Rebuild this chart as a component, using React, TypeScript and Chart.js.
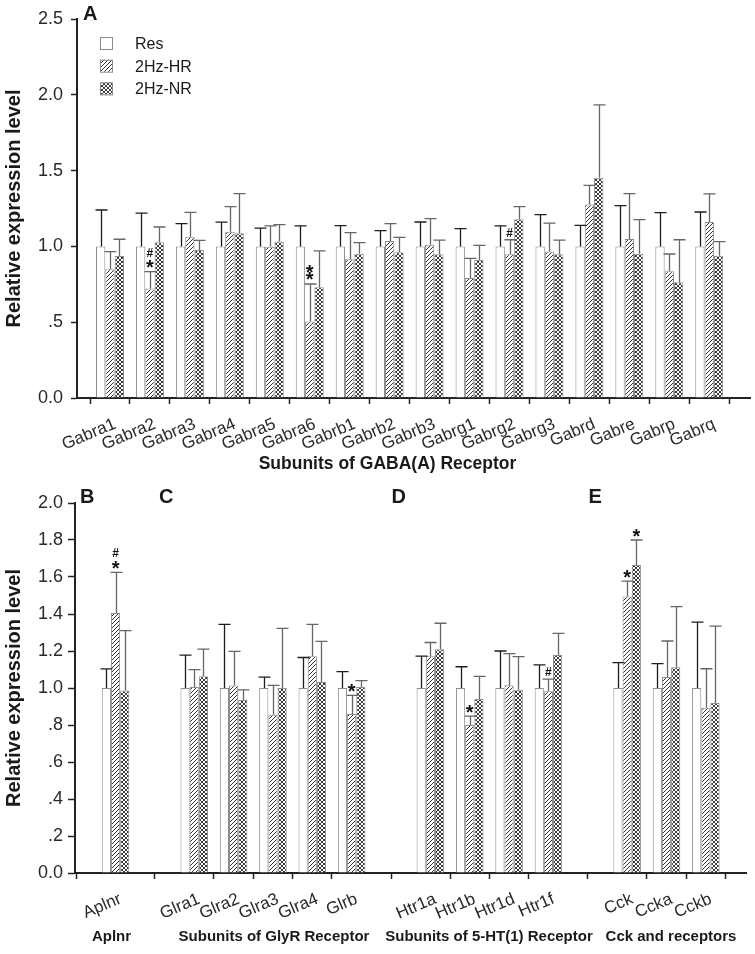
import React, { useEffect, useRef } from 'react';
import { Chart, registerables } from 'chart.js';

Chart.register(...registerables);

const FONT = '"Liberation Sans", Arial, Helvetica, sans-serif';
Chart.defaults.font.family = FONT;

const SERIES = ['Res', '2Hz-HR', '2Hz-NR'];

// ---------- Panel A : GABA(A) receptor subunits ----------
const gabaCategories = ['Gabra1', 'Gabra2', 'Gabra3', 'Gabra4', 'Gabra5', 'Gabra6', 'Gabrb1', 'Gabrb2', 'Gabrb3', 'Gabrg1', 'Gabrg2', 'Gabrg3', 'Gabrd', 'Gabre', 'Gabrp', 'Gabrq'];
const gabaRes = [1, 1, 1, 1, 1, 1, 1, 1, 1, 1, 1, 1, 1, 1, 1, 1];
const gabaResErr = [0.24, 0.22, 0.15, 0.16, 0.12, 0.135, 0.137, 0.104, 0.161, 0.117, 0.135, 0.209, 0.139, 0.269, 0.223, 0.227];
const gabaHR = [0.849, 0.723, 1.064, 1.097, 0.998, 0.504, 0.915, 1.036, 1.011, 0.792, 0.948, 0.967, 1.277, 1.049, 0.836, 1.161];
const gabaHRErr = [0.116, 0.11, 0.161, 0.165, 0.137, 0.248, 0.176, 0.114, 0.172, 0.129, 0.096, 0.187, 0.126, 0.299, 0.114, 0.185];
const gabaNR = [0.937, 1.027, 0.976, 1.086, 1.033, 0.73, 0.952, 0.961, 0.948, 0.91, 1.179, 0.948, 1.453, 0.952, 0.763, 0.939];
const gabaNRErr = [0.11, 0.101, 0.064, 0.262, 0.11, 0.24, 0.073, 0.099, 0.094, 0.097, 0.083, 0.094, 0.48, 0.224, 0.281, 0.092];
const gabaYTicks = [0, 0.5, 1.0, 1.5, 2.0, 2.5];
const gabaMarks = [
  { cat: 1, series: 1, marks: ['*', '#'] },
  { cat: 5, series: 1, marks: ['*', '*'] },
  { cat: 10, series: 1, marks: ['#'] },
];

// ---------- Panels B–E (null = gap between groups) ----------
const otherCategories = ['Aplnr', null, 'Glra1', 'Glra2', 'Glra3', 'Glra4', 'Glrb', null, 'Htr1a', 'Htr1b', 'Htr1d', 'Htr1f', null, 'Cck', 'Ccka', 'Cckb'];
const otherRes = [1, null, 1, 1, 1, 1, 1, null, 1, 1, 1, 1, null, 1, 1, 1];
const otherResErr = [0.103, null, 0.178, 0.344, 0.059, 0.165, 0.088, null, 0.172, 0.115, 0.2, 0.125, null, 0.137, 0.132, 0.356];
const otherHR = [1.405, null, 1.005, 1.013, 0.855, 1.172, 0.86, null, 1.172, 0.8, 1.015, 0.983, null, 1.495, 1.059, 0.893];
const otherHRErr = [0.22, null, 0.094, 0.185, 0.159, 0.172, 0.1, null, 0.074, 0.048, 0.171, 0.065, null, 0.083, 0.195, 0.211];
const otherNR = [0.987, null, 1.063, 0.935, 1.0, 1.032, 1.005, null, 1.21, 0.941, 0.99, 1.178, null, 1.665, 1.112, 0.919];
const otherNRErr = [0.323, null, 0.147, 0.055, 0.322, 0.22, 0.035, null, 0.14, 0.122, 0.18, 0.117, null, 0.135, 0.328, 0.416];
const otherYTicks = [0, 0.2, 0.4, 0.6, 0.8, 1.0, 1.2, 1.4, 1.6, 1.8, 2.0];
const otherMarks = [
  { cat: 0, series: 1, marks: ['*', '#'] },
  { cat: 6, series: 1, marks: ['*'] },
  { cat: 9, series: 1, marks: ['*'] },
  { cat: 11, series: 1, marks: ['#'] },
  { cat: 13, series: 1, marks: ['*'] },
  { cat: 13, series: 2, marks: ['*'] },
];

function fmtTick(v: number) {
  if (Math.abs(v) < 1e-9) return '0.0';
  const s = v.toFixed(1);
  return v < 1 ? s.replace(/^0/, '') : s;
}

function makePattern(kind: 'hatch' | 'cross') {
  const s = 4;
  const c = document.createElement('canvas');
  c.width = s;
  c.height = s;
  const g = c.getContext('2d')!;
  g.fillStyle = '#ffffff';
  g.fillRect(0, 0, s, s);
  g.strokeStyle = kind === 'hatch' ? '#333333' : '#3a3a3a';
  g.lineWidth = 1;
  g.beginPath();
  g.moveTo(-1, s + 1); g.lineTo(s + 1, -1);
  g.moveTo(-1, 1); g.lineTo(1, -1);
  g.moveTo(s - 1, s + 1); g.lineTo(s + 1, s - 1);
  if (kind === 'cross') {
    g.moveTo(-1, -1); g.lineTo(s + 1, s + 1);
    g.moveTo(-1, s - 1); g.lineTo(1, s + 1);
    g.moveTo(s - 1, -1); g.lineTo(s + 1, 1);
  }
  g.stroke();
  return g.createPattern(c, 'repeat')!;
}

const errorBarsPlugin = {
  id: 'errorBars',
  afterDatasetsDraw(chart: any) {
    const ctx = chart.ctx;
    const ys = chart.scales.y;
    chart.data.datasets.forEach((ds: any, di: number) => {
      const meta = chart.getDatasetMeta(di);
      meta.data.forEach((el: any, j: number) => {
        const raw = ds.data[j];
        if (!raw || raw.err == null) return;
        const top = ys.getPixelForValue(raw.y + raw.err);
        const x = Math.round(el.x) + 0.5;
        ctx.save();
        ctx.strokeStyle = ds.errColor;
        ctx.lineWidth = 1.3;
        ctx.beginPath();
        ctx.moveTo(x, el.y);
        ctx.lineTo(x, top);
        ctx.moveTo(x - 6, top);
        ctx.lineTo(x + 6, top);
        ctx.stroke();
        ctx.restore();
      });
    });
  },
};

const marksPlugin = {
  id: 'sigMarks',
  afterDatasetsDraw(chart: any, _args: any, opts: any) {
    const items = (opts && opts.items) || [];
    const ctx = chart.ctx;
    const ys = chart.scales.y;
    items.forEach((it: any) => {
      const ds = chart.data.datasets[it.series];
      const meta = chart.getDatasetMeta(it.series);
      const j = ds.data.findIndex((d: any) => d && d.x === it.cat);
      if (j < 0) return;
      const el = meta.data[j];
      const raw = ds.data[j];
      let cy = ys.getPixelForValue(raw.y + raw.err) - 7.5;
      let prev = '';
      ctx.save();
      ctx.fillStyle = '#111';
      ctx.textAlign = 'center';
      ctx.textBaseline = 'alphabetic';
      it.marks.forEach((m: string) => {
        if (prev) cy -= prev === '*' && m === '*' ? 7.7 : 12;
        ctx.font = m === '*' ? `bold 20px ${FONT}` : `bold 12px ${FONT}`;
        const tm = ctx.measureText(m);
        const off = (tm.actualBoundingBoxAscent - tm.actualBoundingBoxDescent) / 2;
        ctx.fillText(m, el.x, cy + off);
        prev = m;
      });
      ctx.restore();
    });
  },
};

const legendPlugin = {
  id: 'patternLegend',
  afterDraw(chart: any, _args: any, opts: any) {
    if (!opts || !opts.show) return;
    const ctx = chart.ctx;
    chart.data.datasets.forEach((ds: any, i: number) => {
      const cy = opts.y + i * opts.step;
      ctx.save();
      ctx.fillStyle = ds.backgroundColor;
      ctx.fillRect(opts.x, cy - 6, 12, 12);
      ctx.strokeStyle = '#8a8a8a';
      ctx.lineWidth = 1;
      ctx.strokeRect(opts.x + 0.5, cy - 5.5, 12, 12);
      ctx.fillStyle = '#1a1a1a';
      ctx.font = `16px ${FONT}`;
      ctx.textBaseline = 'alphabetic';
      ctx.fillText(ds.label, opts.textX, cy + 5.8);
      ctx.restore();
    });
  },
};

function buildConfig(p: any, pats: any) {
  const { cats, values, errors, xMin, xMax, yTicks, height, yWidth, pad, marks, legend, yTickPad, yTickLen } = p;
  const fills = ['#ffffff', pats.hatch, pats.cross];
  const errColors = ['#1c1c1c', '#666666', '#666666'];
  const datasets = SERIES.map((name, s) => ({
    label: name,
    data: values[s]
      .map((v: number | null, i: number) => (v == null ? null : { x: i, y: v, err: errors[s][i] }))
      .filter((d: any) => d !== null),
    backgroundColor: fills[s],
    borderColor: '#8c8c8c',
    borderWidth: 1,
    errColor: errColors[s],
    categoryPercentage: 0.7,
    barPercentage: 1.0,
  }));
  const chartBottom = height - pad.bottom;
  return {
    type: 'bar',
    data: { datasets },
    plugins: [errorBarsPlugin, marksPlugin, legendPlugin],
    options: {
      responsive: false,
      animation: false,
      events: [],
      layout: { padding: pad },
      plugins: {
        legend: { display: false },
        tooltip: { enabled: false },
        sigMarks: { items: marks },
        patternLegend: legend,
      },
      scales: {
        x: {
          type: 'linear',
          min: xMin,
          max: xMax,
          offset: false,
          afterBuildTicks: (axis: any) => {
            axis.ticks = cats
              .map((c: string | null, i: number) => (c ? { value: i } : null))
              .filter((t: any) => t !== null);
          },
          afterFit: (scale: any) => {
            scale.height = chartBottom - p.areaBottom;
          },
          ticks: {
            autoSkip: false,
            minRotation: 23,
            maxRotation: 23,
            padding: 10,
            labelOffset: 5,
            color: '#2a2a2a',
            font: { family: FONT, size: 17 },
            callback: (v: number) => cats[Math.round(v)] || '',
          },
          grid: {
            drawOnChartArea: false,
            drawTicks: true,
            tickLength: 6,
            tickWidth: 1.5,
            tickColor: '#222',
          },
          border: { display: true, color: '#222', width: 2 },
        },
        y: {
          type: 'linear',
          min: yTicks[0],
          max: yTicks[yTicks.length - 1],
          afterBuildTicks: (axis: any) => {
            axis.ticks = yTicks.map((v: number) => ({ value: v }));
          },
          afterFit: (scale: any) => {
            scale.width = yWidth;
          },
          ticks: {
            padding: yTickPad,
            color: '#2a2a2a',
            font: { family: FONT, size: 18 },
            callback: (v: number) => fmtTick(v),
          },
          grid: {
            drawOnChartArea: false,
            drawTicks: true,
            tickLength: yTickLen,
            tickWidth: 1.5,
            tickColor: '#222',
          },
          border: { display: true, color: '#222', width: 2 },
          title: {
            display: true,
            text: 'Relative expression level',
            color: '#1a1a1a',
            font: { family: FONT, size: 20, weight: 'bold' },
            padding: { top: 2, bottom: 0 },
          },
        },
      },
    },
  };
}

type LabelProps = { x: number; y: number; size: number; text: string; center?: boolean };
function Label({ x, y, size, text, center }: LabelProps) {
  return (
    <div
      style={{
        position: 'absolute',
        left: x,
        top: y - 0.8465 * size,
        fontFamily: FONT,
        fontWeight: 'bold',
        fontSize: size,
        lineHeight: 1,
        whiteSpace: 'nowrap',
        color: '#1a1a1a',
        transform: center ? 'translateX(-50%)' : undefined,
      }}
    >
      {text}
    </div>
  );
}

export default function App() {
  const topRef = useRef<HTMLCanvasElement>(null);
  const botRef = useRef<HTMLCanvasElement>(null);

  useEffect(() => {
    const pats = { hatch: makePattern('hatch'), cross: makePattern('cross') };
    const topCfg = buildConfig(
      {
        cats: gabaCategories,
        values: [gabaRes, gabaHR, gabaNR],
        errors: [gabaResErr, gabaHRErr, gabaNRErr],
        xMin: -0.826,
        xMax: 16.02,
        yTicks: gabaYTicks,
        height: 455,
        areaBottom: 398,
        yWidth: 77,
        pad: { left: 0, right: 5, top: 19, bottom: 0 },
        marks: gabaMarks,
        legend: { show: true, x: 100, y: 43, step: 22.7, textX: 135 },
        yTickPad: 8,
        yTickLen: 6,
      },
      pats
    );
    const botCfg = buildConfig(
      {
        cats: otherCategories,
        values: [otherRes, otherHR, otherNR],
        errors: [otherResErr, otherHRErr, otherNRErr],
        xMin: -1.03,
        xMax: 16.02,
        yTicks: otherYTicks,
        height: 474,
        areaBottom: 393,
        yWidth: 75,
        pad: { left: 0, right: 9, top: 23, bottom: 0 },
        marks: otherMarks,
        legend: { show: false },
        yTickPad: 5,
        yTickLen: 7,
      },
      pats
    );
    const c1 = new Chart(topRef.current as HTMLCanvasElement, topCfg as any);
    const c2 = new Chart(botRef.current as HTMLCanvasElement, botCfg as any);
    return () => {
      c1.destroy();
      c2.destroy();
    };
  }, []);

  return (
    <div style={{ position: 'absolute', left: 0, top: 0, width: 755, height: 954, background: '#fff', overflow: 'hidden' }}>
      <canvas ref={topRef} width={755} height={455} style={{ position: 'absolute', left: 0, top: 0 }} />
      <canvas ref={botRef} width={755} height={474} style={{ position: 'absolute', left: 0, top: 480 }} />
      <Label x={83} y={20} size={20} text="A" />
      <Label x={80} y={503} size={20} text="B" />
      <Label x={159} y={503} size={20} text="C" />
      <Label x={391.5} y={503} size={20} text="D" />
      <Label x={588.5} y={503} size={20} text="E" />
      <Label x={387.5} y={469.5} size={17.5} text="Subunits of GABA(A) Receptor" center />
      <Label x={111.5} y={941} size={15} text="Aplnr" center />
      <Label x={274} y={941} size={15} text="Subunits of GlyR Receptor" center />
      <Label x={489} y={941} size={15} text="Subunits of 5-HT(1) Receptor" center />
      <Label x={671} y={941} size={15} text="Cck and receptors" center />
    </div>
  );
}
